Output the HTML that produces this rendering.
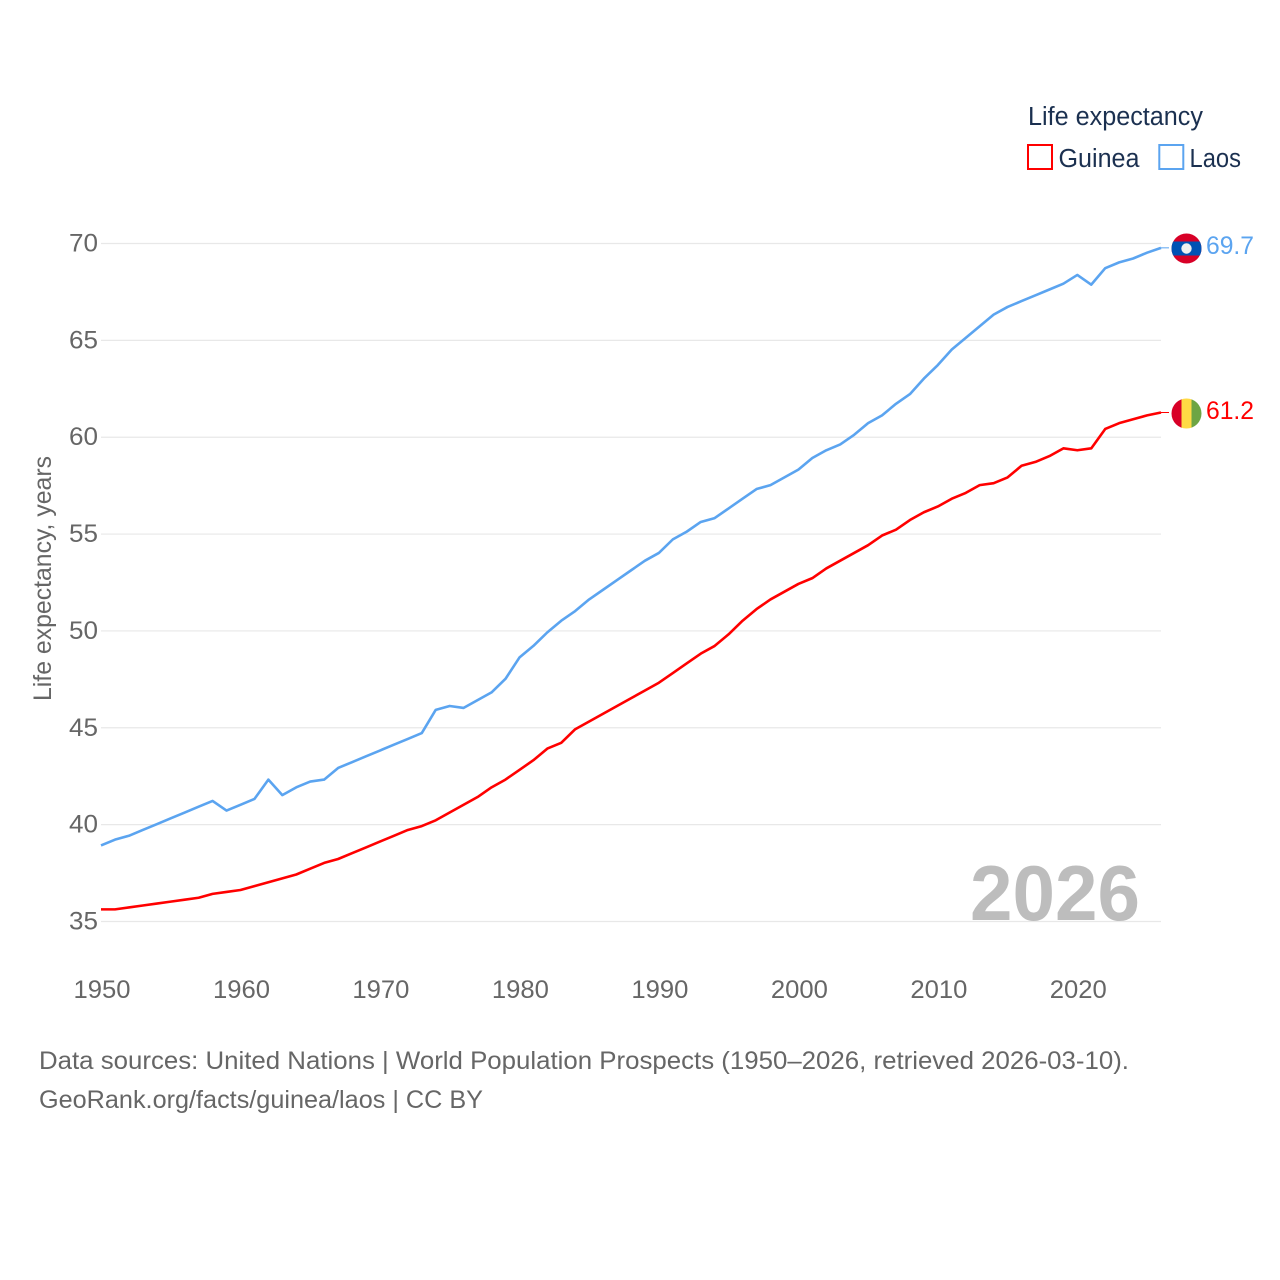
<!DOCTYPE html>
<html lang="en">
<head>
<meta charset="utf-8">
<title>Life expectancy: Guinea and Laos</title>
<style>
  html, body { margin: 0; padding: 0; background: #fff; }
  svg { display: block; font-family: "Liberation Sans", "DejaVu Sans", sans-serif; }
</style>
</head>
<body>
<svg id="chart" xmlns="http://www.w3.org/2000/svg" width="1280" height="1280" viewBox="0 0 1280 1280">
  <rect x="0" y="0" width="1280" height="1280" fill="#ffffff"/>
  <g id="grid"></g>
  <g id="yticks"></g>
  <g id="xticks"></g>
  <text x="970" y="920" font-size="78" font-weight="700" fill="#bdbdbd" textLength="170" lengthAdjust="spacingAndGlyphs">2026</text>
  <text transform="translate(51 701) rotate(-90)" font-size="25" fill="#666666" textLength="245" lengthAdjust="spacingAndGlyphs">Life expectancy, years</text>
  <g id="series"></g>

  <g>
    <clipPath id="laos-clip"><circle cx="1186.5" cy="248.5" r="15"/></clipPath>
    <g clip-path="url(#laos-clip)">
      <rect x="1171" y="233" width="32" height="32" fill="#d80027"/>
      <rect x="1171" y="241.5" width="32" height="14" fill="#0052b4"/>
      <circle cx="1186.5" cy="248.5" r="5.2" fill="#f0f0f0"/>
    </g>
  </g>
  <g>
    <clipPath id="guinea-clip"><circle cx="1186.5" cy="413.500" r="15"/></clipPath>
    <g clip-path="url(#guinea-clip)">
      <rect x="1171" y="398" width="11" height="32" fill="#d80027"/>
      <rect x="1181.5" y="398" width="10" height="32" fill="#ffda44"/>
      <rect x="1191.5" y="398" width="11" height="32" fill="#6da544"/>
    </g>
  </g>
  <text x="1206" y="254" font-size="25" fill="#5ba4f0" textLength="48" lengthAdjust="spacingAndGlyphs">69.7</text>
  <text x="1206" y="419" font-size="25" fill="#ff0000" textLength="48" lengthAdjust="spacingAndGlyphs">61.2</text>

  <g>
    <text x="1028" y="125" font-size="25.5" fill="#1b3050" textLength="175" lengthAdjust="spacingAndGlyphs">Life expectancy</text>
    <g>
      <rect x="1028" y="145" width="24" height="24" fill="#ffffff" stroke="#ff0000" stroke-width="2"/>
      <text x="1058.500" y="167" font-size="25.5" fill="#1b3050" textLength="81" lengthAdjust="spacingAndGlyphs">Guinea</text>
    </g>
    <g>
      <rect x="1159.3" y="145" width="24" height="24" fill="#ffffff" stroke="#5ba4f0" stroke-width="2"/>
      <text x="1189.500" y="167" font-size="25.5" fill="#1b3050" textLength="51.5" lengthAdjust="spacingAndGlyphs">Laos</text>
    </g>
  </g>

  <text x="39" y="1069" font-size="25" fill="#666666" textLength="1090" lengthAdjust="spacingAndGlyphs">Data sources: United Nations | World Population Prospects (1950–2026, retrieved 2026-03-10).</text>
  <text x="39" y="1108" font-size="25" fill="#666666" textLength="444" lengthAdjust="spacingAndGlyphs">GeoRank.org/facts/guinea/laos | CC BY</text>
</svg>

<script>
const firstYear = 1950;
const guineaValues = [35.6,35.6,35.7,35.8,35.9,36.0,36.1,36.2,36.4,36.5,36.6,36.8,37.0,37.2,37.4,37.7,38.0,38.2,38.5,38.8,39.1,39.4,39.7,39.9,40.2,40.6,41.0,41.4,41.9,42.3,42.8,43.3,43.9,44.2,44.9,45.3,45.7,46.1,46.5,46.9,47.3,47.8,48.3,48.8,49.2,49.8,50.5,51.1,51.6,52.0,52.4,52.7,53.2,53.6,54.0,54.4,54.9,55.2,55.7,56.1,56.4,56.8,57.1,57.5,57.6,57.9,58.5,58.7,59.0,59.4,59.3,59.4,60.4,60.7,60.9,61.1,61.25];
const laosValues = [38.9,39.2,39.4,39.7,40.0,40.3,40.6,40.9,41.2,40.7,41.0,41.3,42.3,41.5,41.9,42.2,42.3,42.9,43.2,43.5,43.8,44.1,44.4,44.7,45.9,46.1,46.0,46.4,46.8,47.5,48.6,49.2,49.9,50.5,51.0,51.6,52.1,52.6,53.1,53.6,54.0,54.7,55.1,55.6,55.8,56.3,56.8,57.3,57.5,57.9,58.3,58.9,59.3,59.6,60.1,60.7,61.1,61.7,62.2,63.0,63.7,64.5,65.1,65.7,66.3,66.7,67.0,67.3,67.6,67.9,68.35,67.85,68.7,69.0,69.2,69.5,69.75];
const xTickYears = [1950,1960,1970,1980,1990,2000,2010,2020];
const yTickValues = [35,40,45,50,55,60,65,70];

const NS = 'http://www.w3.org/2000/svg';
const xScale = function (year) { return 101 + (year - 1950) * (1161 - 101) / 76; };
const yScale = function (value) { return 921 - (value - 35) * (921 - 243) / 35; };

function pathFor(values) {
  return values.map(function (v, i) {
    return (i ? 'L' : 'M') + xScale(firstYear + i).toFixed(2) + ' ' + yScale(v).toFixed(2);
  }).join(' ');
}

const gridGroup = document.getElementById('grid');
const yGroup = document.getElementById('yticks');
const xGroup = document.getElementById('xticks');
const seriesGroup = document.getElementById('series');

yTickValues.forEach(function (v) {
  const line = document.createElementNS(NS, 'line');
  
  
  line.setAttribute('x1', xScale(1950));
  line.setAttribute('x2', xScale(2026));
  line.setAttribute('y1', yScale(v) + 0.5);
  line.setAttribute('y2', yScale(v) + 0.5);
  line.setAttribute('stroke', '#e8e8e8');
  line.setAttribute('stroke-width', '1.2');
  gridGroup.appendChild(line);

  const label = document.createElementNS(NS, 'text');
  
  
  label.setAttribute('x', 98);
  label.setAttribute('y', yScale(v) + 8.5);
  label.setAttribute('text-anchor', 'end');
  label.setAttribute('font-size', '25');
  label.setAttribute('fill', '#666666');
  label.setAttribute('textLength', '29');
  label.setAttribute('lengthAdjust', 'spacingAndGlyphs');
  label.textContent = String(v);
  yGroup.appendChild(label);
});

xTickYears.forEach(function (year) {
  const label = document.createElementNS(NS, 'text');
  
  
  label.setAttribute('x', xScale(year) + 1);
  label.setAttribute('y', 998);
  label.setAttribute('text-anchor', 'middle');
  label.setAttribute('font-size', '25');
  label.setAttribute('fill', '#666666');
  label.setAttribute('textLength', '57');
  label.setAttribute('lengthAdjust', 'spacingAndGlyphs');
  label.textContent = String(year);
  xGroup.appendChild(label);
});

const guineaLine = document.createElementNS(NS, 'path');


guineaLine.setAttribute('d', pathFor(guineaValues));
guineaLine.setAttribute('fill', 'none');
guineaLine.setAttribute('stroke', '#ff0000');
guineaLine.setAttribute('stroke-width', '2.6');
guineaLine.setAttribute('stroke-linejoin', 'round');
seriesGroup.appendChild(guineaLine);

const laosLine = document.createElementNS(NS, 'path');


laosLine.setAttribute('d', pathFor(laosValues));
laosLine.setAttribute('fill', 'none');
laosLine.setAttribute('stroke', '#5ba4f0');
laosLine.setAttribute('stroke-width', '2.6');
laosLine.setAttribute('stroke-linejoin', 'round');
seriesGroup.appendChild(laosLine);

const guineaConnector = document.createElementNS(NS, 'line');


guineaConnector.setAttribute('x1', xScale(2026));
guineaConnector.setAttribute('x2', 1169);
guineaConnector.setAttribute('y1', yScale(guineaValues[guineaValues.length - 1]));
guineaConnector.setAttribute('y2', yScale(guineaValues[guineaValues.length - 1]));
guineaConnector.setAttribute('stroke', '#ff0000');
guineaConnector.setAttribute('stroke-width', '1');
seriesGroup.appendChild(guineaConnector);

const laosConnector = document.createElementNS(NS, 'line');


laosConnector.setAttribute('x1', xScale(2026));
laosConnector.setAttribute('x2', 1169);
laosConnector.setAttribute('y1', yScale(laosValues[laosValues.length - 1]));
laosConnector.setAttribute('y2', yScale(laosValues[laosValues.length - 1]));
laosConnector.setAttribute('stroke', '#5ba4f0');
laosConnector.setAttribute('stroke-width', '1');
seriesGroup.appendChild(laosConnector);
</script>
</body>
</html>
